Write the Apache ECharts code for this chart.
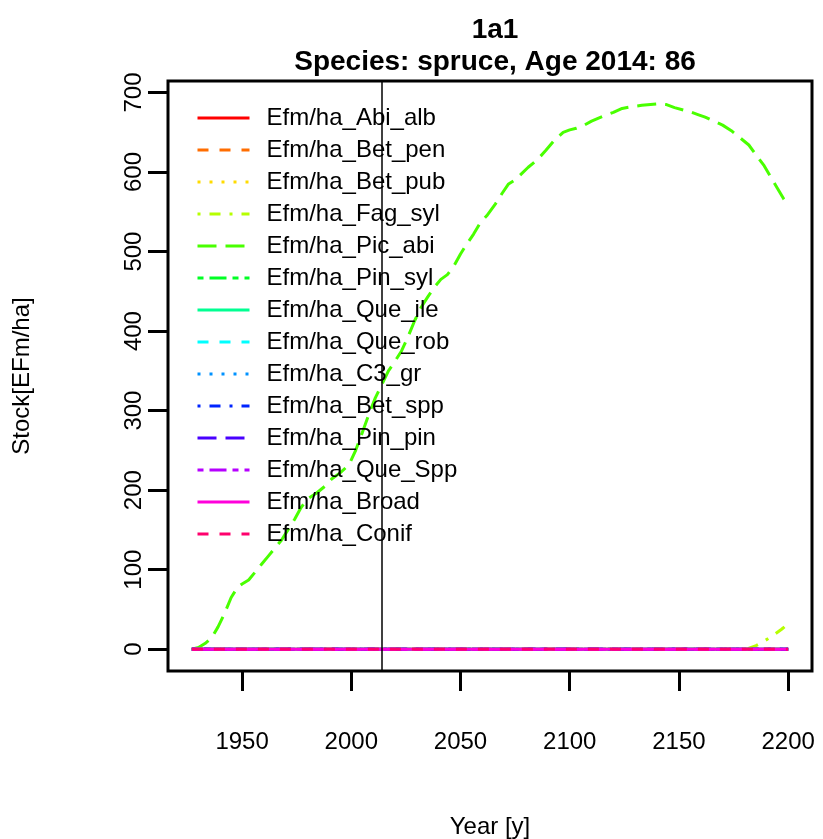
<!DOCTYPE html>
<html>
<head>
<meta charset="utf-8">
<script src="https://cdn.jsdelivr.net/npm/echarts@6/dist/echarts.min.js"></script>
<style>
  html, body { margin: 0; padding: 0; background: #fff; }
  #chart { width: 823px; height: 839px; }
</style>
</head>
<body>
<div id="chart"></div>
<script>
// legend entries, in drawing order
const seriesNames = [
  'Efm/ha_Abi_alb', 'Efm/ha_Bet_pen', 'Efm/ha_Bet_pub', 'Efm/ha_Fag_syl',
  'Efm/ha_Pic_abi', 'Efm/ha_Pin_syl', 'Efm/ha_Que_ile', 'Efm/ha_Que_rob',
  'Efm/ha_C3_gr', 'Efm/ha_Bet_spp', 'Efm/ha_Pin_pin', 'Efm/ha_Que_Spp',
  'Efm/ha_Broad', 'Efm/ha_Conif'
]
const seriesColors = [
  '#FF0000', '#FF6D00', '#FFDB00', '#B6FF00', '#49FF00', '#00FF24', '#00FF92',
  '#00FFFF', '#0092FF', '#0024FF', '#4900FF', '#B600FF', '#FF00DB', '#FF006D'
]
const lineTypes = [
  'solid', 'dashed', 'dotted', 'dotdash', 'longdash', 'twodash', 'solid',
  'dashed', 'dotted', 'dotdash', 'longdash', 'twodash', 'solid', 'dashed'
]

// Picea abies stock curve
const picYears = [1927, 1930, 1933, 1936, 1939, 1942, 1945, 1948, 1950, 1953, 1956, 1959, 1962, 1965,
  1968, 1971, 1974, 1977, 1980, 1984, 1988, 1991, 1995, 1999, 2002, 2005, 2008, 2011, 2014, 2017,
  2020, 2023, 2026, 2029, 2032, 2035, 2038, 2041, 2044, 2047, 2050, 2053, 2056, 2059, 2062, 2066,
  2069, 2072, 2075, 2078, 2081, 2085, 2089, 2093, 2097, 2100, 2103, 2106, 2110, 2115, 2120, 2124,
  2128, 2133, 2137, 2141, 2144, 2148, 2152, 2155, 2159, 2162, 2166, 2170, 2174, 2178, 2182, 2186,
  2189, 2192, 2195, 2198, 2200]
const picStock = [0, 2, 7, 14, 28, 45, 65, 78, 82, 87, 97, 107, 117, 127,
  137, 150, 163, 178, 189, 196, 205, 214, 222, 232, 250, 272, 295, 316, 333, 350,
  362, 375, 393, 413, 430, 443, 455, 465, 471, 482, 497, 510, 522, 536, 545, 560,
  573, 585, 590, 598, 606, 615, 627, 640, 650, 653, 655, 658, 664, 670, 675, 680,
  682, 684, 685, 686, 685, 681, 678, 676, 672, 669, 664, 659, 652, 643, 634, 619,
  608, 594, 580, 566, 558]

// Fagus sylvatica, only rising at the very end
const fagYears = [1927, 2181, 2185, 2189, 2193, 2197, 2200]
const fagStock = [0, 0, 4, 10, 17, 25, 32]

// all other species stay at zero
const zeroYears = [1927, 2200]
const zeroStock = [0, 0]

const xTicks = [1950, 2000, 2050, 2100, 2150, 2200]
const yTicks = [0, 100, 200, 300, 400, 500, 600, 700]
const refYear = 2014

const dashes = {
  solid: 'solid',
  dashed: [11, 11],
  dotted: [3, 9],
  dotdash: [3, 9, 11, 9],
  longdash: [19, 9],
  twodash: [6, 6, 17, 6]
}

function pairs(xs, ys) {
  return xs.map((x, i) => [x, ys[i]])
}

const series = seriesNames.map((name, i) => {
  let data = pairs(zeroYears, zeroStock)
  if (name === 'Efm/ha_Pic_abi') data = pairs(picYears, picStock)
  if (name === 'Efm/ha_Fag_syl') data = pairs(fagYears, fagStock)
  const s = {
    name: name,
    type: 'line',
    data: data,
    symbol: 'none',
    showSymbol: false,
    color: seriesColors[i],
    lineStyle: { color: seriesColors[i], width: 3, type: dashes[lineTypes[i]] },
    emphasis: { disabled: true }
  }
  if (i === 0) {
    s.markLine = {
      silent: true,
      symbol: 'none',
      label: { show: false },
      lineStyle: { color: '#000', width: 1.5, type: 'solid' },
      data: [{ xAxis: refYear }]
    }
  }
  return s
})

const chart = echarts.init(document.getElementById('chart'))
chart.setOption({
  animation: false,
  textStyle: { fontFamily: 'Liberation Sans, Arial, sans-serif', color: '#000' },
  title: {
    text: '1a1\nSpecies: spruce, Age 2014: 86',
    left: 490,
    top: 9,
    textAlign: 'center',
    textStyle: { fontSize: 28, fontWeight: 'bold', lineHeight: 32, color: '#000' }
  },
  grid: {
    left: 168, right: 11, top: 81, bottom: 168,
    outerBoundsMode: 'none',
    show: true, borderColor: '#000', borderWidth: 3, backgroundColor: '#fff'
  },
  legend: {
    orient: 'vertical',
    left: 191,
    top: 101,
    itemWidth: 52,
    itemHeight: 24,
    itemGap: 8,
    itemStyle: { opacity: 0 },
    lineStyle: { width: 3 },
    textStyle: { fontSize: 24, lineHeight: 24, color: '#000', padding: [0, 0, 0, 12] },
    data: seriesNames
  },
  xAxis: {
    type: 'value',
    min: 1916.08,
    max: 2210.92,
    name: 'Year [y]',
    nameLocation: 'middle',
    nameGap: 144,
    nameTextStyle: { fontSize: 24, color: '#000' },
    axisLine: { show: false, onZero: false },
    axisTick: { show: true, length: 20, customValues: xTicks, lineStyle: { color: '#000', width: 3 } },
    axisLabel: { customValues: xTicks, fontSize: 24, color: '#000', margin: 59, formatter: v => String(v) },
    splitLine: { show: false }
  },
  yAxis: {
    type: 'value',
    min: -27.5,
    max: 714.5,
    name: 'Stock[EFm/ha]',
    nameLocation: 'middle',
    nameGap: 134,
    nameTextStyle: { fontSize: 24, color: '#000' },
    axisLine: { show: false, onZero: false },
    axisTick: { show: true, length: 20, customValues: yTicks, lineStyle: { color: '#000', width: 3 } },
    axisLabel: { customValues: yTicks, fontSize: 24, color: '#000', rotate: 90, margin: 22, formatter: v => String(v) },
    splitLine: { show: false }
  },
  series: series
})
</script>
</body>
</html>
